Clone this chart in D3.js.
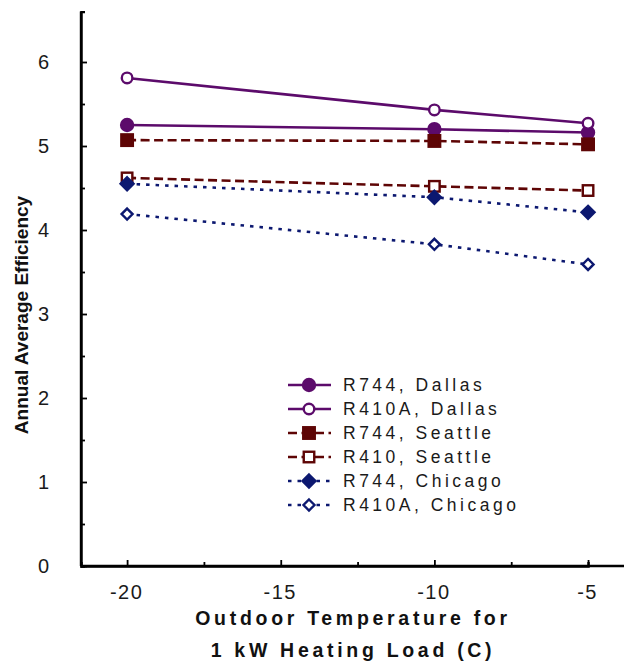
<!DOCTYPE html>
<html>
<head>
<meta charset="utf-8">
<script src="https://cdn.jsdelivr.net/npm/d3@7"></script>
<style>
  html, body { margin: 0; padding: 0; background: #fff; }
  svg { display: block; font-family: "Liberation Sans", Arial, sans-serif; }
</style>
</head>
<body>
<svg id="chart" width="628" height="662"></svg>
<script>
// Outdoor temperatures (C) at which each case was evaluated
const temperatures = [-20, -10, -5];

// Annual average efficiency per refrigerant / city
const r744Dallas    = [5.25, 5.20, 5.16];
const r410aDallas   = [5.81, 5.43, 5.27];
const r744Seattle   = [5.07, 5.06, 5.02];
const r410Seattle   = [4.62, 4.52, 4.47];
const r744Chicago   = [4.55, 4.39, 4.21];
const r410aChicago  = [4.19, 3.83, 3.59];

const seriesNames = ["R744, Dallas", "R410A, Dallas", "R744, Seattle", "R410, Seattle", "R744, Chicago", "R410A, Chicago"];
const seriesValues = [r744Dallas, r410aDallas, r744Seattle, r410Seattle, r744Chicago, r410aChicago];

const xTicks = [-20, -15, -10, -5];
const xMinorTicks = [-17.5, -12.5, -7.5];
const yTicks = [0, 1, 2, 3, 4, 5, 6];
const yMinorTicks = [0.5, 1.5, 2.5, 3.5, 4.5, 5.5];

const purple = "#5c0b6b", maroon = "#5e0505", navy = "#0c1870";
const styles = [
  { color: purple, dash: null,  shape: "circle",  filled: true },
  { color: purple, dash: null,  shape: "circle",  filled: false },
  { color: maroon, dash: "9,4.5", shape: "square",  filled: true },
  { color: maroon, dash: "9,4.5", shape: "square",  filled: false },
  { color: navy,   dash: "3.5,6", shape: "diamond", filled: true },
  { color: navy,   dash: "3.5,6", shape: "diamond", filled: false }
];

const svg = d3.select("#chart");
const x0 = 81, xEnd = 624, yBase = 566;
const x = d3.scaleLinear().domain([-21.5, -5]).range([x0, 81 + 16.5 * 30.73]);
const y = d3.scaleLinear().domain([0, 6.6]).range([yBase, yBase - 6.6 * 84]);

// Axes: ticks point inward
const gx = svg.append("g").attr("transform", `translate(0,${yBase})`);
gx.call(d3.axisBottom(x).tickValues(xTicks).tickSize(-6).tickPadding(19).tickFormat(d => "-" + Math.abs(d)));
gx.append("g").call(d3.axisBottom(x).tickValues(xMinorTicks).tickSize(-4).tickFormat(""));
const gy = svg.append("g").attr("transform", `translate(${x0},0)`);
gy.call(d3.axisLeft(y).tickValues(yTicks).tickSize(-6).tickPadding(32).tickFormat(d3.format("d")));
gy.append("g").call(d3.axisLeft(y).tickValues(yMinorTicks).tickSize(-4).tickFormat(""));

gx.select("g").select(".domain").remove();
gy.select("g").select(".domain").remove();
gx.select(".domain").attr("d", `M${x0},0H${xEnd}`);
gy.select(".domain").attr("d", `M0,${yBase}V${y(6.6)}`);
svg.selectAll(".domain").attr("stroke", "#000").attr("stroke-width", 2.4);
svg.selectAll(".tick line").attr("stroke", "#000").attr("stroke-width", 1.8);
svg.selectAll(".tick text").attr("fill", "#1a1a1a").attr("font-size", 20).attr("font-family", "Liberation Sans, Arial, sans-serif");
gx.selectAll(".tick text").attr("letter-spacing", 1.5).attr("dx", -1);

// Axis titles
const titleFont = { size: 19.5, spacing: 3.7 };
svg.append("text").attr("x", 353).attr("y", 625).attr("text-anchor", "middle")
  .attr("font-size", titleFont.size).attr("font-weight", "bold").attr("letter-spacing", titleFont.spacing).attr("fill", "#111")
  .text("Outdoor Temperature for");
svg.append("text").attr("x", 353).attr("y", 657).attr("text-anchor", "middle")
  .attr("font-size", titleFont.size).attr("font-weight", "bold").attr("letter-spacing", titleFont.spacing).attr("fill", "#111")
  .text("1 kW Heating Load (C)");
svg.append("text").attr("transform", "translate(28,315) rotate(-90)").attr("text-anchor", "middle")
  .attr("font-size", 19).attr("font-weight", "bold").attr("fill", "#111")
  .text("Annual Average Efficiency");

function drawMarker(g, shape, cx, cy, color, filled) {
  const fill = filled ? color : "#fff";
  if (shape === "circle") {
    g.append("circle").attr("cx", cx).attr("cy", cy).attr("r", filled ? 6 : 5.3)
      .attr("fill", fill).attr("stroke", color).attr("stroke-width", 2.4);
  } else if (shape === "square") {
    const s = filled ? 11.5 : 10.5;
    g.append("rect").attr("x", cx - s / 2).attr("y", cy - s / 2).attr("width", s).attr("height", s)
      .attr("fill", fill).attr("stroke", color).attr("stroke-width", 2.4);
  } else {
    const r = filled ? 6.5 : 5.5;
    g.append("path").attr("d", `M${cx},${cy - r}L${cx + r},${cy}L${cx},${cy + r}L${cx - r},${cy}Z`)
      .attr("fill", fill).attr("stroke", color).attr("stroke-width", 2.4);
  }
}

const line = d3.line().x(d => x(d[0])).y(d => y(d[1]));
const plot = svg.append("g");
seriesValues.forEach((vals, i) => {
  const st = styles[i];
  const pts = temperatures.map((t, j) => [t, vals[j]]);
  plot.append("path").datum(pts).attr("d", line).attr("fill", "none")
    .attr("stroke", st.color).attr("stroke-width", 2.6)
    .attr("stroke-dasharray", st.dash);
  pts.forEach(p => drawMarker(plot, st.shape, x(p[0]), y(p[1]), st.color, st.filled));
});

// Legend
const legend = svg.append("g");
seriesNames.forEach((name, i) => {
  const st = styles[i];
  const ly = 385 + i * 24;
  legend.append("line").attr("x1", 288).attr("x2", 331).attr("y1", ly).attr("y2", ly)
    .attr("stroke", st.color).attr("stroke-width", 2.6).attr("stroke-dasharray", st.dash);
  drawMarker(legend, st.shape, 309, ly, st.color, st.filled);
  legend.append("text").attr("x", 343).attr("y", ly + 6).attr("font-size", 17.5)
    .attr("letter-spacing", 3.5).attr("fill", "#1a1a1a").text(name);
});
</script>
</body>
</html>
